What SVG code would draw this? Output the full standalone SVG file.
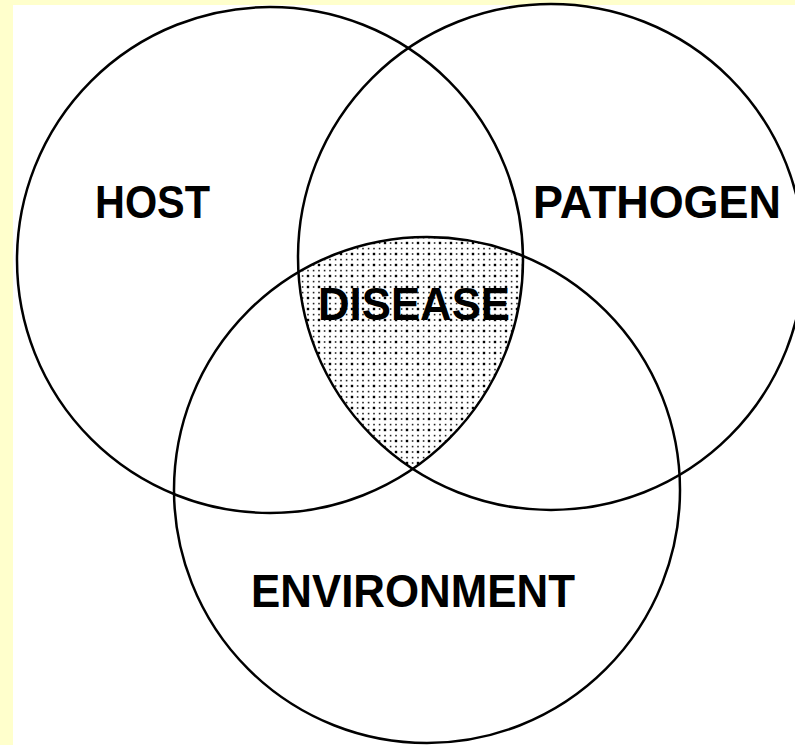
<svg xmlns="http://www.w3.org/2000/svg" width="795" height="745" viewBox="0 0 795 745">
  <style>
    .ring { fill: none; stroke: #000; stroke-width: 2.5; }
    .label { font-family: "Liberation Sans", Arial, Helvetica, sans-serif; font-weight: bold; font-size: 46px; fill: #000; }
  </style>
  <defs>
    <pattern id="dots" patternUnits="userSpaceOnUse" x="0" y="1" width="11" height="11">
      <rect x="-1.2" y="-1.2" width="2.4" height="2.4" fill="#000"/>
      <rect x="9.8" y="-1.2" width="2.4" height="2.4" fill="#000"/>
      <rect x="-1.2" y="9.8" width="2.4" height="2.4" fill="#000"/>
      <rect x="9.8" y="9.8" width="2.4" height="2.4" fill="#000"/>
      <rect x="4.8" y="-0.8" width="1.6" height="1.6" fill="#222"/>
      <rect x="4.8" y="10.2" width="1.6" height="1.6" fill="#222"/>
      <rect x="-0.8" y="4.8" width="1.6" height="1.6" fill="#222"/>
      <rect x="10.2" y="4.8" width="1.6" height="1.6" fill="#222"/>
      <rect x="4.8" y="4.8" width="1.6" height="1.6" fill="#222"/>
    </pattern>
    <clipPath id="clipHost"><circle cx="270" cy="260" r="253"/></clipPath>
    <clipPath id="clipPathogen"><circle cx="551" cy="257" r="253"/></clipPath>
  </defs>

  <rect x="0" y="0" width="795" height="745" fill="#FFFFCC"/>
  <rect x="13" y="5" width="782" height="740" fill="#FFFFFF"/>

  <g id="disease">
    <g clip-path="url(#clipHost)">
      <g clip-path="url(#clipPathogen)">
        <circle cx="427" cy="490" r="253" fill="url(#dots)"/>
      </g>
    </g>
  </g>

  <g id="host">
    <circle class="ring" cx="270" cy="260" r="253"/>
    <text class="label" x="95" y="218" textLength="115" lengthAdjust="spacingAndGlyphs">HOST</text>
  </g>

  <g id="pathogen">
    <circle class="ring" cx="551" cy="257" r="253"/>
    <text class="label" x="533" y="218" textLength="248" lengthAdjust="spacingAndGlyphs">PATHOGEN</text>
  </g>

  <g id="environment">
    <circle class="ring" cx="427" cy="490" r="253"/>
    <text class="label" x="251" y="607" textLength="324" lengthAdjust="spacingAndGlyphs">ENVIRONMENT</text>
  </g>

  <g id="disease-label">
    <text class="label" x="318" y="320" textLength="192" lengthAdjust="spacingAndGlyphs">DISEASE</text>
  </g>

  <g id="connectors"></g>
</svg>
